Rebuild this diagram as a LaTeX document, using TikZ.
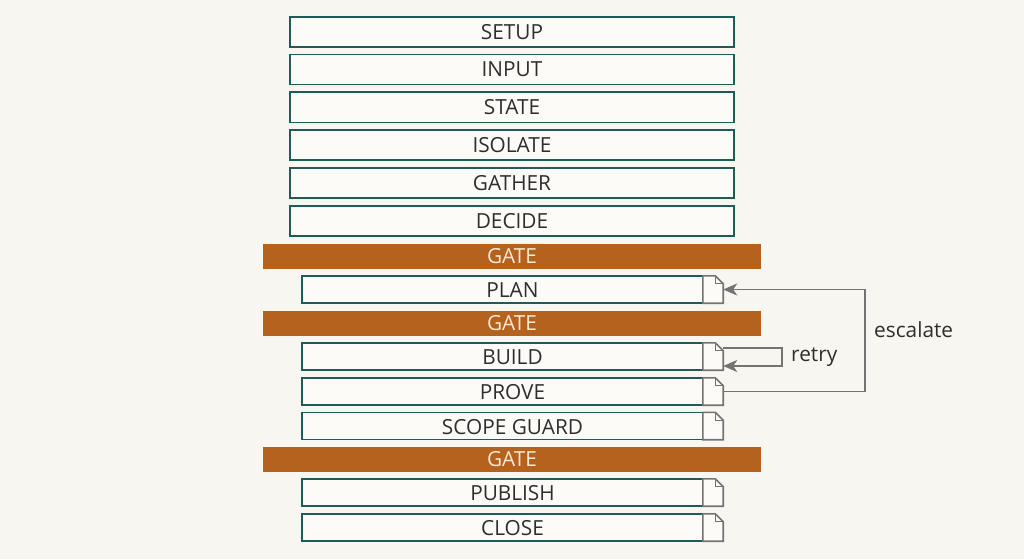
\documentclass[tikz,border=0pt]{standalone}
\usepackage{fontspec}
\setmainfont{Open Sans}
\usetikzlibrary{arrows.meta,calc}
\definecolor{bgc}{HTML}{F8F6F0}
\definecolor{teal}{HTML}{1F5C58}
\definecolor{boxfill}{HTML}{FCFBF8}
\definecolor{gatec}{HTML}{B5621E}
\definecolor{gatetext}{HTML}{F8E9D2}
\definecolor{txt}{HTML}{2E2E2E}
\definecolor{arrc}{HTML}{737373}
\tikzset{
  fnt/.style={font=\fontsize{20.8}{22}\selectfont},
  topbox/.style={fnt, draw=teal, line width=1.8pt, fill=boxfill, minimum width=444pt, minimum height=30pt, inner sep=0pt, text=txt},
  lowbox/.style={draw=teal, line width=1.8pt, fill=boxfill, minimum width=401pt, minimum height=27pt, inner sep=0pt},
  lowtext/.style={fnt, text=txt, inner sep=0pt},
  gatebar/.style={fnt, fill=gatec, minimum width=498pt, minimum height=25pt, inner sep=0pt, text=gatetext},
  docslot/.style={minimum width=20pt, minimum height=27pt, inner sep=0pt},
  docline/.style={draw=arrc, line width=1.6pt, fill=boxfill, line join=miter},
  arr/.style={draw=arrc, line width=1.8pt, -{Stealth[length=14pt,width=12pt,inset=4pt]}},
  lbl/.style={fnt, text=txt, inner sep=0pt}
}
\begin{document}
\begin{tikzpicture}[x=1pt,y=-1pt]
\fill[bgc] (0,0) rectangle (1024,559);
\useasboundingbox (0,0) rectangle (1024,559);
% top boxes
\node[topbox] (setup)   at (512,31.8)  {SETUP};
\node[topbox] (input)   at (512,69.6)  {INPUT};
\node[topbox] (state)   at (512,107.4) {STATE};
\node[topbox] (isolate) at (512,145.2) {ISOLATE};
\node[topbox] (gather)  at (512,183)   {GATHER};
\node[topbox] (decide)  at (512,220.8) {DECIDE};
% gates
\node[gatebar] (gate1) at (512,256)   {GATE};
\node[gatebar] (gate2) at (512,323.5) {GATE};
\node[gatebar] (gate3) at (512,459.5) {GATE};
% lower boxes
\foreach \n/\y/\t in {plan/289.5/PLAN, build/356.5/BUILD, prove/391.5/PROVE, scope/426/SCOPE GUARD, publish/492.5/PUBLISH, close/527.5/CLOSE}{
  \node[lowbox] (\n) at (502.5,\y) {};
  \node[lowtext] (\n-t) at (512.5,\y+1) {\t};
  \node[docslot] (\n-d) at (713,\y) {};
  \draw[docline] (\n-d.north west) -- ([xshift=-8pt]\n-d.north east) -- ([yshift=-8pt]\n-d.north east) -- (\n-d.south east) -- (\n-d.south west) -- cycle;
  \draw[draw=arrc, line width=1.2pt] ([xshift=-8pt]\n-d.north east) -- ([xshift=-8pt,yshift=-8pt]\n-d.north east) -- ([yshift=-8pt]\n-d.north east);
}
% escalate
\coordinate (esc) at (865,289.5);
\draw[arr] (prove-d.east) -- (prove-d.east -| esc) -- (esc) -- (plan-d.east);
\node[lbl, anchor=west] (escl) at (874,330) {escalate};
% retry
\coordinate (rt1) at (782,348);
\coordinate (rt2) at (782,366);
\draw[arr] (build-d.east |- rt1) -- (rt1) -- (rt2) -- (build-d.east |- rt2);
\node[lbl, anchor=west] (rtl) at (791,357) {retry};
\end{tikzpicture}
\end{document}
